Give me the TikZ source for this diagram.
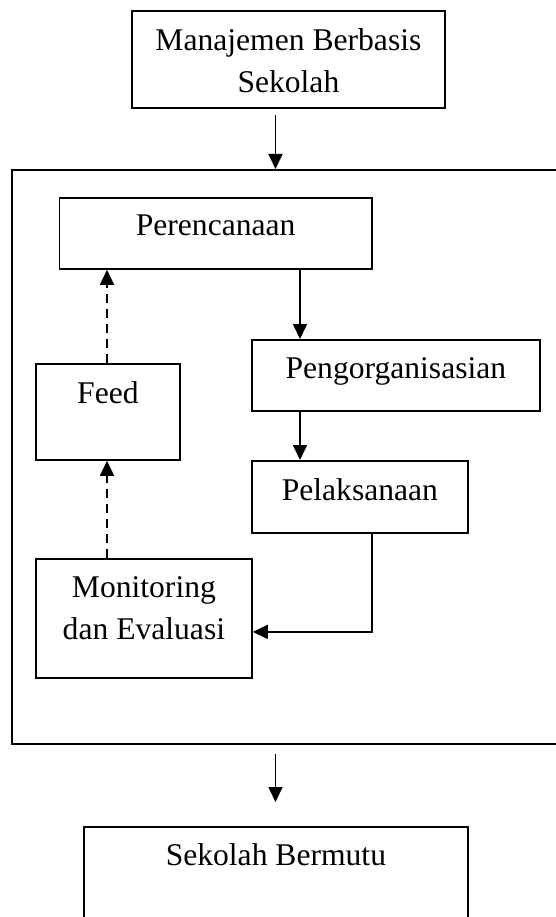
\documentclass[tikz,border=0pt]{standalone}
\usepackage{fontspec}
\setmainfont{Liberation Serif}
\usetikzlibrary{arrows.meta}

\begin{document}
\begin{tikzpicture}[
    x=1pt, y=-1pt,
    font=\fontsize{31.6}{42}\selectfont,
    % Define styles
    box/.style={
        rectangle,
        draw=black,
        anchor=north west,
        inner sep=0pt,
        align=center,
        line width=1.8pt
    },
    frame/.style={
        rectangle,
        draw=black,
        anchor=north west,
        inner sep=0pt,
        line width=2.2pt
    },
    line/.style={
        draw,
        -{Triangle[length=15pt,width=14pt]},
        line width=1.6pt
    },
    dashedline/.style={
        draw,
        -{Triangle[length=15pt,width=14pt]},
        dash pattern=on 9pt off 6pt,
        line width=1.6pt
    }
]
\useasboundingbox (0,0) rectangle (556,917);

% Outer frame (runs past the right edge)
\node[frame, minimum width=560pt, minimum height=574pt] (frame) at (11,169) {};

% Place nodes
\node[box, minimum width=313pt, text height=82pt, text depth=15pt] (mbs) at (131,10)
    {Manajemen Berbasis\\Sekolah};
\node[box, minimum width=312.5pt, text height=38pt, text depth=33pt] (plan) at (58.5,197)
    {Perencanaan};
\node[box, minimum width=288pt, text height=39pt, text depth=32pt] (org) at (251,339)
    {Pengorganisasian};
\node[box, minimum width=144pt, text height=40pt, text depth=56pt] (feed) at (35,363)
    {Feed};
\node[box, minimum width=216pt, text height=40pt, text depth=32pt] (pel) at (251,460)
    {Pelaksanaan};
\node[box, minimum width=216pt, text height=81pt, text depth=38pt] (monev) at (35,558)
    {Monitoring\\dan Evaluasi};
\node[box, minimum width=384pt, text height=39pt, text depth=120pt] (mutu) at (83,826)
    {Sekolah Bermutu};

% Columns for the connectors
\coordinate (colM) at (275.5,0);
\coordinate (colR) at (300,0);
\coordinate (colP) at (372,0);
\coordinate (colL) at (107,0);

% Draw edges
\path[line, shorten <=6pt] (colM |- mbs.south) -- (colM |- frame.north);
\path[line] (colR |- plan.south) -- (colR |- org.north);
\path[line] (colR |- org.south) -- (colR |- pel.north);
\path[line] (colP |- pel.south) |- ([yshift=-13.5pt]monev.east);

% Feedback
\path[dashedline] (colL |- monev.north) -- (colL |- feed.south);
\path[dashedline] (colL |- feed.north) -- (colL |- plan.south);

% Output
\path[line, shorten <=9pt, shorten >=24pt] (colM |- frame.south) -- (colM |- mutu.north);

\end{tikzpicture}
\end{document}
